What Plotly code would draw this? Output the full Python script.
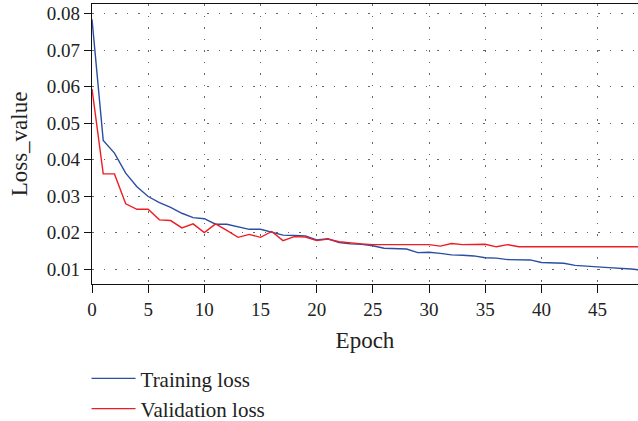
import plotly.graph_objects as go

epochs = list(range(50))
training_loss = [0.0785, 0.0453, 0.0418, 0.0363, 0.0326, 0.0299, 0.0282, 0.0269, 0.0253, 0.0241,
                 0.0238, 0.0223, 0.0223, 0.0217, 0.0209, 0.0209, 0.0201, 0.0193, 0.0192, 0.0191,
                 0.0180, 0.0183, 0.0173, 0.0169, 0.0168, 0.0164, 0.0157, 0.0156, 0.0155, 0.0145,
                 0.0146, 0.0143, 0.0139, 0.0138, 0.0136, 0.0131, 0.0130, 0.0126, 0.0126, 0.0125,
                 0.0118, 0.0117, 0.0116, 0.0110, 0.0107, 0.0106, 0.0104, 0.0103, 0.0100, 0.0097]
validation_loss = [0.0594, 0.0361, 0.0361, 0.0279, 0.0264, 0.0264, 0.0235, 0.0233, 0.0213, 0.0224,
                   0.0200, 0.0224, 0.0206, 0.0187, 0.0195, 0.0187, 0.0203, 0.0178, 0.0189, 0.0188,
                   0.0178, 0.0182, 0.0175, 0.0171, 0.0169, 0.0167, 0.0167, 0.0167, 0.0167, 0.0167,
                   0.0167, 0.0163, 0.0170, 0.0167, 0.0167, 0.0168, 0.0161, 0.0167, 0.0161, 0.0161,
                   0.0161, 0.0161, 0.0161, 0.0161, 0.0161, 0.0161, 0.0161, 0.0161, 0.0161, 0.0161]
x_ticks = [0, 5, 10, 15, 20, 25, 30, 35, 40, 45]
y_ticks = [0.01, 0.02, 0.03, 0.04, 0.05, 0.06, 0.07, 0.08]

font = "Liberation Serif"
fs = 19
fig = go.Figure()
fig.add_trace(go.Scatter(x=epochs, y=training_loss, mode="lines", name="Training loss",
                         line=dict(color="#2b4ea2", width=1.4)))
fig.add_trace(go.Scatter(x=epochs, y=validation_loss, mode="lines", name="Validation loss",
                         line=dict(color="#ee1c25", width=1.4)))

fig.update_layout(
    width=638, height=421,
    margin=dict(l=92, r=0, t=4, b=137, autoexpand=False),
    paper_bgcolor="white", plot_bgcolor="white",
    font=dict(family=font, size=fs, color="#222"),
    showlegend=True,
    legend=dict(x=-0.01, y=-0.265, xanchor="left", yanchor="top",
                font=dict(size=21, family=font), itemwidth=44,
                bgcolor="rgba(0,0,0,0)", tracegroupgap=0),
    xaxis=dict(
        range=[0, 48.6], tickvals=x_ticks, showline=True, linecolor="#111", linewidth=1.3,
        mirror=True, ticks="outside", ticklen=8, tickcolor="#111", tickwidth=1.2,
        showgrid=True, gridcolor="#666", gridwidth=1.2, griddash="1.5px,10px",
        zeroline=False, title=dict(text="Epoch", standoff=12),
        tickfont=dict(size=fs, family=font),
    ),
    yaxis=dict(
        range=[0.0059, 0.0827], tickvals=y_ticks, tickformat=".2f", showline=True,
        linecolor="#111", linewidth=1.3, ticks="outside", ticklen=7, tickcolor="#111",
        tickwidth=1.2, showgrid=True, gridcolor="#666", gridwidth=1.2, griddash="1.5px,10px",
        zeroline=False, title=dict(text="Loss_value", standoff=12),
        tickfont=dict(size=fs, family=font),
    ),
)
fig.write_html("out.html")
